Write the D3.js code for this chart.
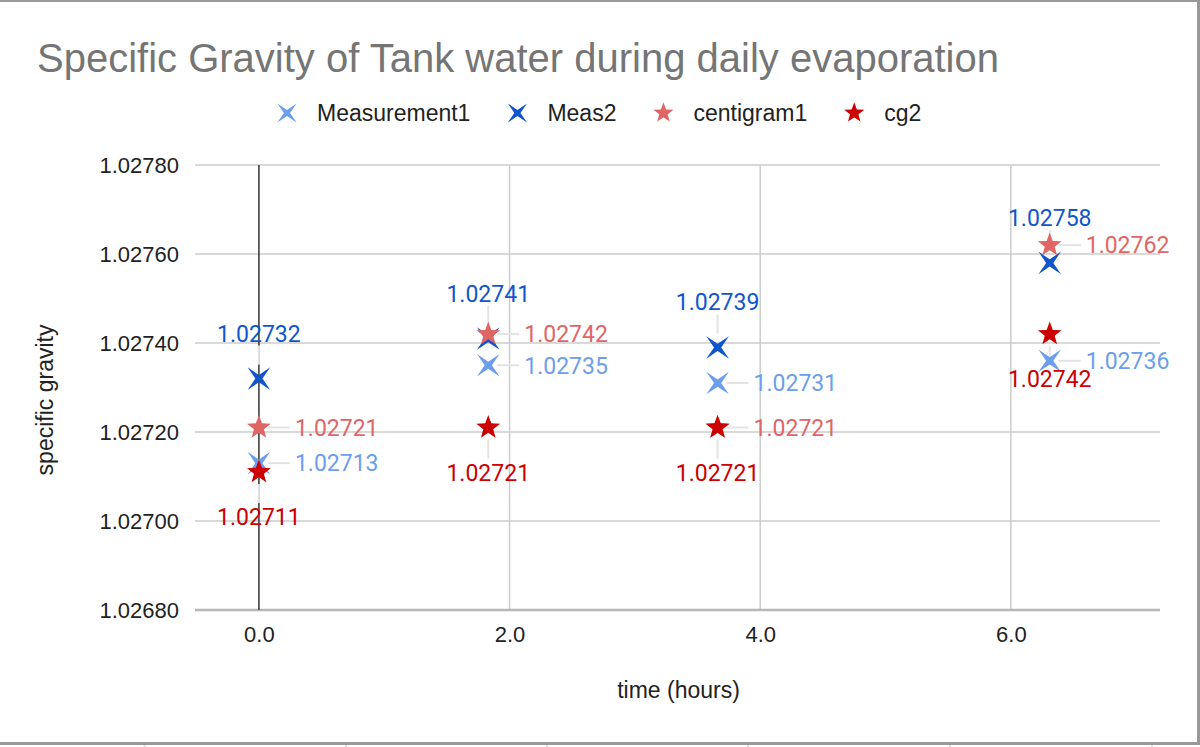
<!DOCTYPE html>
<html>
<head>
<meta charset="utf-8">
<script src="https://cdn.jsdelivr.net/npm/d3@7"></script>
<style>
html,body{margin:0;padding:0;background:#fff;}
svg{display:block;}
</style>
</head>
<body>
<svg id="chart" width="1200" height="747"></svg>
<script>
// ---- data ----
const times = [0, 1.83, 3.66, 6.31];
const measurement1 = [1.02713, 1.02735, 1.02731, 1.02736];
const meas2 = [1.02732, 1.02741, 1.02739, 1.02758];
const centigram1 = [1.02721, 1.02742, 1.02721, 1.02762];
const cg2 = [1.02711, 1.02721, 1.02721, 1.02742];
const seriesNames = ["Measurement1", "Meas2", "centigram1", "cg2"];
const yTicks = [1.0268, 1.0270, 1.0272, 1.0274, 1.0276, 1.0278];
const xTicks = [0, 2, 4, 6];
const titleText = "Specific Gravity of Tank water during daily evaporation";
const xTitle = "time (hours)";
const yTitle = "specific gravity";

// ---- styles ----
const colors = ["#6d9eeb", "#1155cc", "#e06666", "#cc0000"];
const shapes = ["x4", "x4", "star", "star"];
const labelPos = ["right", "above", "right", "below"];
const seriesValues = [measurement1, meas2, centigram1, cg2];

const svg = d3.select("#chart");
const W = 1200, H = 747;
const plot = {left: 195, right: 1160, top: 165, bottom: 610};
const AX_FONT = "Liberation Sans, Arial, sans-serif";

const x = d3.scaleLinear().domain([-0.51, 7.19]).range([plot.left, plot.right]);
const y = d3.scaleLinear().domain([1.0268, 1.0278]).range([plot.bottom, plot.top]);

// border frame
svg.append("rect").attr("x", 0).attr("y", 0).attr("width", W).attr("height", 2).attr("fill", "#999");
svg.append("rect").attr("x", 1197).attr("y", 0).attr("width", 3).attr("height", 745).attr("fill", "#999");
svg.append("rect").attr("x", 0).attr("y", 742).attr("width", W).attr("height", 3).attr("fill", "#999");
[143.5, 345, 546, 747, 949, 1151].forEach(px => {
  svg.append("rect").attr("x", px).attr("y", 745).attr("width", 2).attr("height", 2).attr("fill", "#ddd");
});

// title
svg.append("text").attr("x", 37).attr("y", 72)
  .attr("font-family", AX_FONT).attr("font-size", 40)
  .attr("fill", "#757575").text(titleText);

// gridlines
const grid = svg.append("g");
grid.selectAll("line.h").data(yTicks.slice(1)).enter().append("line")
  .attr("x1", plot.left).attr("x2", plot.right)
  .attr("y1", d => y(d)).attr("y2", d => y(d))
  .attr("stroke", "#cccccc").attr("stroke-width", 1.5);
grid.selectAll("line.v").data(xTicks.filter(d => d !== 0)).enter().append("line")
  .attr("x1", d => x(d)).attr("x2", d => x(d))
  .attr("y1", plot.top).attr("y2", plot.bottom)
  .attr("stroke", "#cccccc").attr("stroke-width", 1.5);
// baseline
svg.append("line").attr("x1", plot.left).attr("x2", plot.right)
  .attr("y1", y(1.0268)).attr("y2", y(1.0268))
  .attr("stroke", "#b7b7b7").attr("stroke-width", 2.5);
// zero line
svg.append("line").attr("x1", x(0)).attr("x2", x(0))
  .attr("y1", plot.top).attr("y2", plot.bottom)
  .attr("stroke", "#333").attr("stroke-width", 1.5);

// axes via d3 axis generators (text only)
const yAxis = d3.axisLeft(y).tickValues(yTicks).tickFormat(d3.format(".5f")).tickSize(0).tickPadding(0);
const gy = svg.append("g").attr("transform", `translate(${plot.left - 16},0)`).call(yAxis);
gy.select(".domain").remove();
gy.selectAll("text").attr("font-family", AX_FONT)
  .attr("font-size", 22).attr("fill", "#222").attr("dy", "0.35em");

const xAxis = d3.axisBottom(x).tickValues(xTicks).tickFormat(d3.format(".1f")).tickSize(0).tickPadding(0);
const gx = svg.append("g").attr("transform", `translate(0,${plot.bottom + 16})`).call(xAxis);
gx.select(".domain").remove();
gx.selectAll("text").attr("font-family", AX_FONT)
  .attr("font-size", 22).attr("fill", "#222").attr("dy", "0.71em");

// axis titles
svg.append("text").attr("x", (plot.left + plot.right) / 2 + 1).attr("y", 698)
  .attr("text-anchor", "middle").attr("font-family", AX_FONT)
  .attr("font-size", 23).attr("fill", "#222").text(xTitle);
svg.append("text").attr("transform", "translate(53,400) rotate(-90)")
  .attr("text-anchor", "middle").attr("font-family", AX_FONT)
  .attr("font-size", 23).attr("fill", "#222").text(yTitle);

// marker paths
function x4Path(R, r) {
  const pts = [];
  for (let i = 0; i < 8; i++) {
    const a = Math.PI / 4 + i * Math.PI / 4;
    const rad = i % 2 === 0 ? R : r;
    pts.push([rad * Math.cos(a), rad * Math.sin(a)]);
  }
  return "M" + pts.map(p => p[0].toFixed(2) + "," + p[1].toFixed(2)).join("L") + "Z";
}
function starPath(R, r) {
  const pts = [];
  for (let i = 0; i < 10; i++) {
    const a = -Math.PI / 2 + i * Math.PI / 5;
    const rad = i % 2 === 0 ? R : r;
    pts.push([rad * Math.cos(a), rad * Math.sin(a)]);
  }
  return "M" + pts.map(p => p[0].toFixed(2) + "," + p[1].toFixed(2)).join("L") + "Z";
}
function markerPath(shape, s) {
  return shape === "x4" ? x4Path(16 * s, 3.6 * s) : starPath(12.5 * s, 5.2 * s);
}

// leader lines
const leaders = svg.append("g");
seriesValues.forEach((vals, si) => {
  vals.forEach((v, i) => {
    const px = x(times[i]), py = y(v);
    const pos = labelPos[si];
    let l;
    if (pos === "right") l = [px + 9, py, px + 31, py];
    else if (pos === "above") l = [px, py - 33, px, py - 14];
    else l = [px, py + 12, px, py + 31];
    leaders.append("line").attr("x1", l[0]).attr("y1", l[1]).attr("x2", l[2]).attr("y2", l[3])
      .attr("stroke", "#e3e3e3").attr("stroke-width", 2);
  });
});

// markers
seriesValues.forEach((vals, si) => {
  svg.append("g").selectAll("path").data(vals).enter().append("path")
    .attr("d", markerPath(shapes[si], 1))
    .attr("transform", (d, i) => `translate(${x(times[i])},${y(d)})`)
    .attr("fill", colors[si]);
});

// data labels
seriesValues.forEach((vals, si) => {
  const g = svg.append("g");
  vals.forEach((v, i) => {
    const px = x(times[i]), py = y(v);
    const pos = labelPos[si];
    const t = g.append("text").attr("font-family", "Roboto, sans-serif").attr("font-size", 23)
      .attr("fill", colors[si]).text(d3.format(".5f")(v));
    if (pos === "right") t.attr("x", px + 36).attr("y", py).attr("dy", "0.36em");
    else if (pos === "above") t.attr("x", px).attr("y", py - 37).attr("text-anchor", "middle");
    else t.attr("x", px).attr("y", py + 53).attr("text-anchor", "middle");
  });
});

// legend
const legend = svg.append("g").attr("transform", "translate(287,113)");
let cx = 0;
seriesNames.forEach((name, si) => {
  const g = legend.append("g");
  g.append("path").attr("d", markerPath(shapes[si], 0.85)).attr("transform", `translate(${cx},0)`).attr("fill", colors[si]);
  const t = g.append("text").attr("x", cx + 30).attr("y", 0).attr("dy", "0.35em")
    .attr("font-family", AX_FONT).attr("font-size", 23).attr("fill", "#222").text(name);
  const w = t.node().getComputedTextLength();
  cx = cx + 30 + w + 47;
});
</script>
</body>
</html>
